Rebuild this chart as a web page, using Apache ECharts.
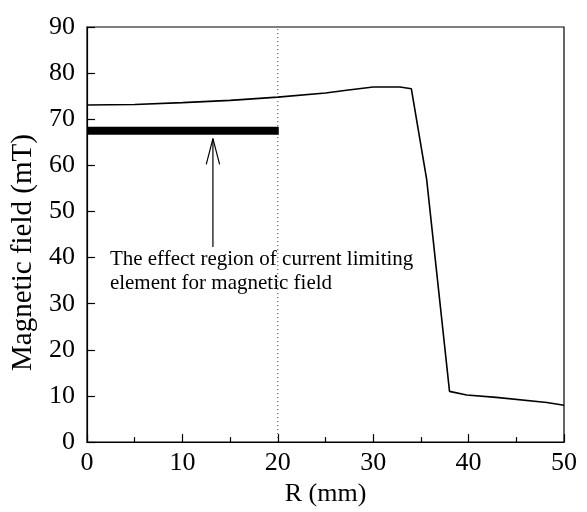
<!DOCTYPE html>
<html>
<head>
<meta charset="utf-8">
<script src="https://cdn.jsdelivr.net/npm/echarts@6/dist/echarts.min.js"></script>
<style>html,body{margin:0;padding:0;background:#fff;}#c{width:587px;height:512px;}</style>
</head>
<body>
<div id="c"></div>
<script>
// Data
var rValues = [0, 5, 10, 15, 20, 25, 27.2, 30, 32.8, 34, 35.6, 38.0, 39.8, 42.9, 48.2, 50];
var fieldValues = [73.1, 73.2, 73.6, 74.1, 74.8, 75.7, 76.3, 77.0, 77.0, 76.6, 57.0, 11.0, 10.2, 9.7, 8.6, 8.0];
var regionX = [0, 20.1];
var regionY = [67.5, 67.5];
var dividerX = [20, 20];
var dividerY = [0, 90];
var arrowX = [13.2, 13.2];
var arrowY = [42.3, 65.8];
var arrowHeadX = [12.5, 13.2, 13.9];
var arrowHeadY = [60.2, 65.8, 60.2];
var xTicks = [0, 10, 20, 30, 40, 50];
var yTicks = [0, 10, 20, 30, 40, 50, 60, 70, 80, 90];
var annotationLines = ['The effect region of current limiting', 'element for magnetic field'];
var annotationAt = [2.4, 42.3];

function pairs(xs, ys) { return xs.map(function (x, i) { return [x, ys[i]]; }); }

var FONT = '"Liberation Serif", "Times New Roman", serif';
var chart = echarts.init(document.getElementById('c'), null, { renderer: 'canvas' });
var lineBase = { type: 'line', symbol: 'none', silent: true, animation: false };

chart.setOption({
  backgroundColor: '#fff',
  animation: false,
  grid: { left: 87, right: 23, top: 27, bottom: 69, show: true, borderColor: '#000', borderWidth: 1.2, backgroundColor: 'transparent' },
  xAxis: {
    type: 'value', min: xTicks[0], max: xTicks[xTicks.length - 1], interval: 10,
    name: 'R (mm)', nameLocation: 'middle', nameGap: 37,
    nameTextStyle: { fontFamily: FONT, fontSize: 26, color: '#000' },
    axisLine: { show: true, lineStyle: { color: '#000', width: 1.2 } },
    axisTick: { show: true, inside: true, length: 8, lineStyle: { color: '#000', width: 1.2 } },
    minorTick: { show: true, splitNumber: 2, length: 5, lineStyle: { color: '#000', width: 1.2 } },
    axisLabel: { fontFamily: FONT, fontSize: 26, color: '#000', margin: 8 },
    splitLine: { show: false }
  },
  yAxis: {
    type: 'value', min: yTicks[0], max: yTicks[yTicks.length - 1], interval: 10,
    name: 'Magnetic field (mT)', nameLocation: 'middle', nameGap: 49, nameRotate: 90,
    nameTextStyle: { fontFamily: FONT, fontSize: 29, color: '#000', padding: [0, 36, 0, 0] },
    axisLine: { show: true, lineStyle: { color: '#000', width: 1.2 } },
    axisTick: { show: true, inside: true, length: 8, lineStyle: { color: '#000', width: 1.2 } },
    axisLabel: { fontFamily: FONT, fontSize: 26, color: '#000', margin: 12 },
    splitLine: { show: false }
  },
  series: [
    Object.assign({}, lineBase, { name: 'divider', data: pairs(dividerX, dividerY), lineStyle: { color: '#333', width: 1, type: [1, 3] } }),
    Object.assign({}, lineBase, { name: 'field', data: pairs(rValues, fieldValues), lineStyle: { color: '#000', width: 1.6 } }),
    Object.assign({}, lineBase, { name: 'region', data: pairs(regionX, regionY), lineStyle: { color: '#000', width: 8, cap: 'butt' } }),
    Object.assign({}, lineBase, { name: 'arrow', data: pairs(arrowX, arrowY), lineStyle: { color: '#000', width: 1.2 } }),
    Object.assign({}, lineBase, { name: 'arrowHead', data: pairs(arrowHeadX, arrowHeadY), lineStyle: { color: '#000', width: 1.2 } })
  ]
});

var p = chart.convertToPixel({ gridIndex: 0 }, annotationAt);
chart.setOption({
  graphic: [{
    type: 'text', left: p[0], top: p[1], silent: true,
    style: { text: annotationLines.join('\n'), fontFamily: FONT, fontSize: 21, lineHeight: 24, fill: '#000' }
  }]
});
</script>
</body>
</html>
